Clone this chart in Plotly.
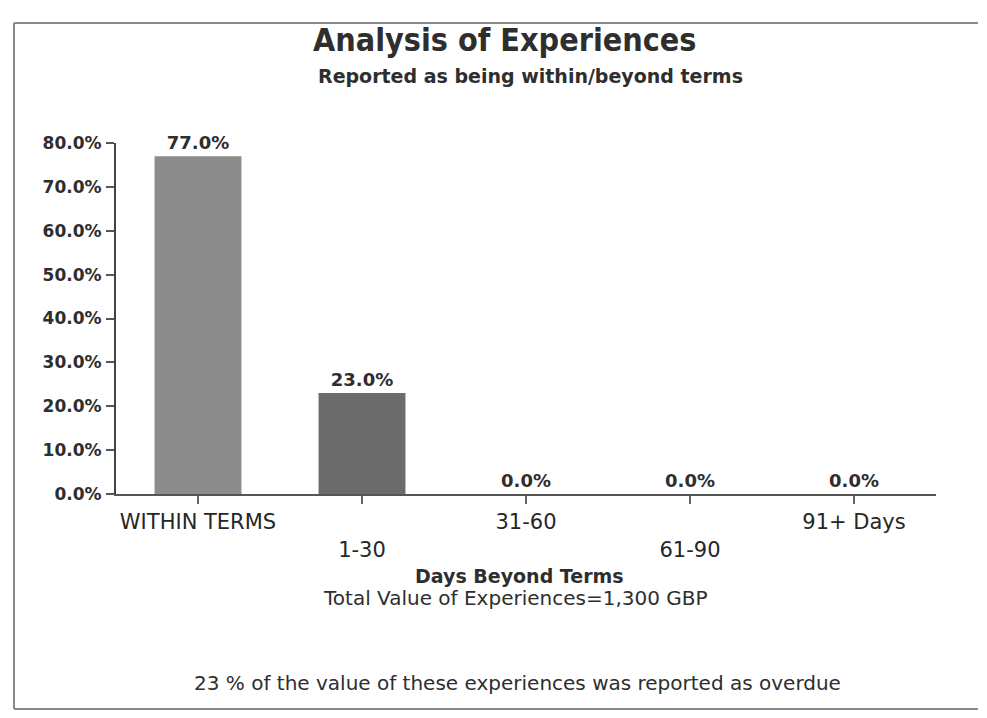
import plotly.graph_objects as go

categories = ["WITHIN TERMS", "1-30", "31-60", "61-90", "91+ Days"]
values = [77.0, 23.0, 0.0, 0.0, 0.0]
bar_colors = ["#8c8c8c", "#6c6c6c", "#6c6c6c", "#6c6c6c", "#6c6c6c"]
y_ticks = [0, 10, 20, 30, 40, 50, 60, 70, 80]
y_tick_labels = [f"{v:.1f}%" for v in y_ticks]

OFF = 8  # default page body margin
W, H = 987 - 2 * OFF, 718 - 2 * OFF
L, R, T, B = 108, 43, 135, 216
PW, PH = W - L - R, H - T - B

def px(xs):
    return (xs - OFF - L) / PW

def py(ys):
    return (H - B - (ys - OFF)) / PH

tick_text = [c if i % 2 == 0 else "<br>" + c for i, c in enumerate(categories)]
COND = "DejaVu Sans Condensed, DejaVu Sans, sans-serif"
FONT = "DejaVu Sans, sans-serif"
TXT = "#2e2e2e"

fig = go.Figure()
fig.add_trace(go.Bar(
    x=categories, y=values,
    marker=dict(color=bar_colors, line=dict(width=0)),
    width=0.53,
    text=[f"<b>{v:.1f}%</b>" for v in values],
    textposition="outside",
    textfont=dict(size=18, color=TXT, family=FONT),
    cliponaxis=False,
))

fig.update_layout(
    width=W, height=H,
    margin=dict(l=L, r=R, t=T, b=B),
    paper_bgcolor="white", plot_bgcolor="white",
    showlegend=False,
    font=dict(family=FONT, color=TXT),
    xaxis=dict(
        tickmode="array", tickvals=categories, ticktext=tick_text,
        showline=True, linecolor="#555555", linewidth=2,
        ticks="outside", ticklen=8, tickcolor="#666666", tickwidth=2,
        tickfont=dict(size=21, color="#262626", family=FONT),
        showgrid=False, zeroline=False,
    ),
    yaxis=dict(
        range=[0, 80],
        tickmode="array", tickvals=y_ticks,
        ticktext=[f"<b>{t}</b>" for t in y_tick_labels],
        showline=True, linecolor="#444444", linewidth=2,
        ticks="outside", ticklen=8, tickcolor="#555555", tickwidth=2,
        tickfont=dict(size=17, color=TXT, family=FONT),
        ticklabelstandoff=1,
        showgrid=False, zeroline=False,
    ),
)

# page frame (left, top, bottom edges; right edge runs off the page)
frame = dict(color="#8a8a8a", width=2)
fig.add_shape(type="line", xref="paper", yref="paper",
              x0=px(14), x1=px(14), y0=py(709), y1=py(23), line=frame)
fig.add_shape(type="line", xref="paper", yref="paper",
              x0=px(14), x1=px(978), y0=py(23), y1=py(23), line=frame)
fig.add_shape(type="line", xref="paper", yref="paper",
              x0=px(14), x1=px(978), y0=py(709), y1=py(709), line=frame)

def note(text, x, y, size, bold=False, family=FONT):
    fig.add_annotation(
        text=f"<b>{text}</b>" if bold else text,
        xref="paper", yref="paper", x=px(x), y=py(y),
        showarrow=False, xanchor="center", yanchor="middle",
        font=dict(size=size, color=TXT, family=family),
    )

note("Analysis of Experiences", 505, 40, 32, bold=True, family=COND)
note("Reported as being within/beyond terms", 530, 76, 19, bold=True)
note("Days Beyond Terms", 519, 576, 19, bold=True)
note("Total Value of Experiences=1,300 GBP", 515, 598, 20)
note("23 % of the value of these experiences was reported as overdue", 517, 683, 20)

fig.write_html("out.html")
